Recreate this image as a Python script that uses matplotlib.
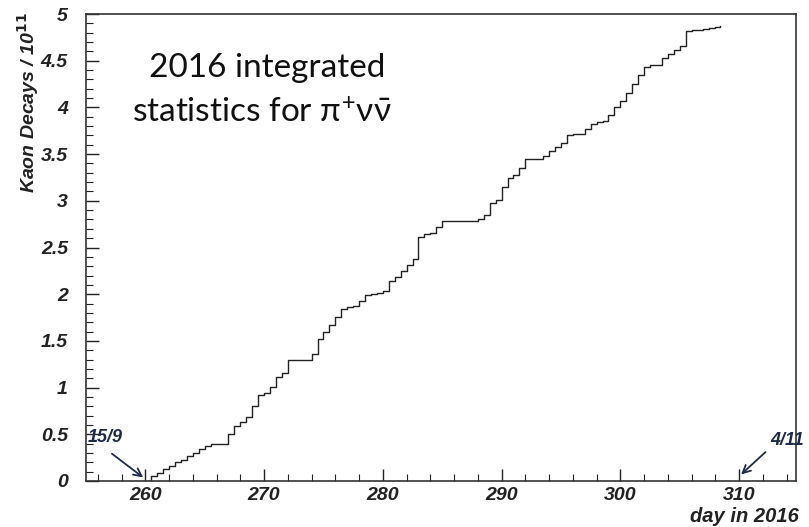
import matplotlib
matplotlib.use("Agg")
from matplotlib import pyplot as plt
from matplotlib.ticker import MultipleLocator

# integrated kaon decays (units of 1e11), sampled every half day
days = [260.0, 260.5, 261.0, 261.5, 262.0, 262.5, 263.0, 263.5, 264.0, 264.5,
        265.0, 265.5, 266.0, 266.5, 267.0, 267.5, 268.0, 268.5, 269.0, 269.5,
        270.0, 270.5, 271.0, 271.5, 272.0, 272.5, 273.0, 273.5, 274.0, 274.5,
        275.0, 275.5, 276.0, 276.5, 277.0, 277.5, 278.0, 278.5, 279.0, 279.5,
        280.0, 280.5, 281.0, 281.5, 282.0, 282.5, 283.0, 283.5, 284.0, 284.5,
        285.0, 285.5, 286.0, 286.5, 287.0, 287.5, 288.0, 288.5, 289.0, 289.5,
        290.0, 290.5, 291.0, 291.5, 292.0, 292.5, 293.0, 293.5, 294.0, 294.5,
        295.0, 295.5, 296.0, 296.5, 297.0, 297.5, 298.0, 298.5, 299.0, 299.5,
        300.0, 300.5, 301.0, 301.5, 302.0, 302.5, 303.0, 303.5, 304.0, 304.5,
        305.0, 305.5, 306.0, 306.5, 307.0, 307.5, 308.0, 308.4]
decays = [0.00, 0.05, 0.09, 0.13, 0.16, 0.20, 0.23, 0.27, 0.30, 0.34,
          0.38, 0.40, 0.40, 0.40, 0.50, 0.59, 0.63, 0.68, 0.80, 0.92,
          0.94, 1.01, 1.11, 1.16, 1.30, 1.30, 1.30, 1.30, 1.36, 1.52,
          1.60, 1.67, 1.76, 1.84, 1.86, 1.87, 1.93, 1.99, 2.00, 2.01,
          2.03, 2.14, 2.18, 2.25, 2.31, 2.38, 2.61, 2.64, 2.66, 2.72,
          2.78, 2.78, 2.78, 2.78, 2.78, 2.78, 2.81, 2.85, 2.98, 3.01,
          3.15, 3.24, 3.28, 3.35, 3.45, 3.45, 3.45, 3.48, 3.53, 3.58,
          3.62, 3.70, 3.71, 3.72, 3.77, 3.82, 3.84, 3.85, 3.92, 4.00,
          4.07, 4.15, 4.25, 4.35, 4.43, 4.45, 4.45, 4.53, 4.57, 4.61,
          4.66, 4.82, 4.83, 4.83, 4.84, 4.85, 4.86, 4.87]

start_day, start_label = 260, "15/9"
end_day, end_label = 310, "4/11"

plt.rcParams["mathtext.fontset"] = "custom"
plt.rcParams["mathtext.rm"] = "Lato"
plt.rcParams["mathtext.it"] = "Lato"

root_font = dict(family="Liberation Sans", weight="bold", style="italic")


def main():
    fig = plt.figure(figsize=(8.09, 5.27), dpi=100)
    ax = fig.add_axes([0.1063, 0.0873, 0.8777, 0.8861])

    ax.plot(days, decays, drawstyle="steps-post", color="#222222", lw=1.0)

    ax.set_xlim(255.0, 314.8)
    ax.set_ylim(0, 5)
    ax.xaxis.set_major_locator(MultipleLocator(10))
    ax.xaxis.set_minor_locator(MultipleLocator(2))
    ax.yaxis.set_major_locator(MultipleLocator(0.5))
    ax.yaxis.set_minor_locator(MultipleLocator(0.1))
    ax.tick_params(which="both", direction="in", top=False, right=False, color="#222222")
    ax.tick_params(which="major", length=9, width=1)
    ax.tick_params(which="minor", length=5, width=0.8)
    ax.tick_params(axis="x", pad=4)
    ax.tick_params(axis="y", pad=13)
    for sp in ax.spines.values():
        sp.set_linewidth(1.2)
        sp.set_color("#333333")

    ax.set_yticks([0, 0.5, 1, 1.5, 2, 2.5, 3, 3.5, 4, 4.5, 5])
    ax.set_yticklabels(["0", "0.5", "1", "1.5", "2", "2.5", "3", "3.5", "4", "4.5", "5"])
    for lab in ax.get_xticklabels() + ax.get_yticklabels():
        lab.set_fontproperties(dict(root_font, size=14))
        lab.set_color("#222222")

    fig.text(0.988, 0.002, "day in 2016", ha="right", va="bottom",
             fontsize=14.5, color="#222222", **root_font)
    fig.text(0.035, 0.977, r"Kaon Decays / 10$^{\mathbf{11}}$", rotation=90,
             ha="center", va="top", fontsize=14, color="#222222", **root_font)

    ax.text(270.3, 4.33, "2016 integrated", ha="center", va="baseline",
            fontsize=24, family=["Lato", "DejaVu Sans"], color="#111111")
    ax.text(269.8, 3.84, r"statistics for $\pi^{+}\nu\bar{\nu}$", ha="center", va="baseline",
            fontsize=24, family=["Lato", "DejaVu Sans"], color="#111111")

    arrow = dict(arrowstyle="->", color="#1f2a44", lw=1.3, mutation_scale=14)
    ax.annotate("", xy=(start_day, 0.02), xytext=(257.0, 0.31), arrowprops=arrow)
    ax.text(255.15, 0.38, start_label, ha="left", va="bottom", fontsize=13,
            color="#1f2a44", **root_font)
    ax.annotate("", xy=(end_day, 0.05), xytext=(312.4, 0.33), arrowprops=arrow)
    ax.text(312.6, 0.34, end_label, ha="left", va="bottom", fontsize=13,
            color="#1f2a44", clip_on=False, **root_font)

    fig.savefig("out.png", dpi=100)


if __name__ == "__main__":
    main()
